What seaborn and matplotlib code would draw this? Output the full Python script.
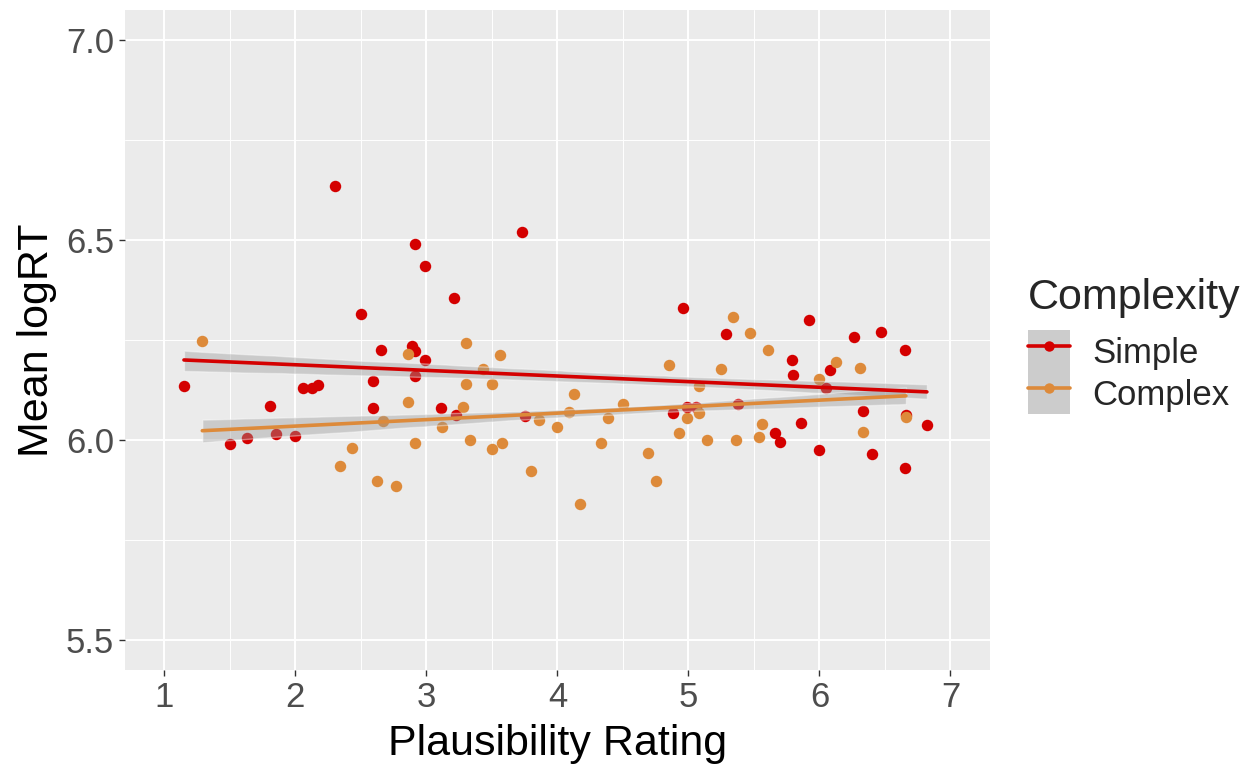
import numpy as np
import pandas as pd
import matplotlib
matplotlib.use("Agg")
import matplotlib.pyplot as plt
import seaborn as sns
from matplotlib.patches import Rectangle
from matplotlib.lines import Line2D

# 값은 그림에서 눈으로 읽음
simple_x = [1.15, 1.50, 1.63, 1.81, 1.85, 2.00, 2.06, 2.13, 2.17, 2.30, 2.50, 2.59,
            2.59, 2.65, 2.89, 2.91, 2.91, 2.91, 2.99, 2.99, 3.11, 3.21, 3.23, 3.73,
            3.75, 4.88, 4.96, 4.99, 5.06, 5.29, 5.38, 5.66, 5.70, 5.79, 5.80, 5.86,
            5.92, 6.00, 6.05, 6.08, 6.26, 6.33, 6.40, 6.47, 6.65, 6.65, 6.66, 6.82]
simple_y = [6.135, 5.990, 6.005, 6.085, 6.015, 6.010, 6.130, 6.130, 6.137, 6.635, 6.314, 6.147,
            6.080, 6.224, 6.234, 6.222, 6.490, 6.160, 6.436, 6.200, 6.080, 6.356, 6.062, 6.520,
            6.060, 6.067, 6.329, 6.082, 6.082, 6.264, 6.090, 6.017, 5.995, 6.200, 6.162, 6.042,
            6.300, 5.975, 6.130, 6.175, 6.257, 6.072, 5.965, 6.270, 6.224, 5.930, 6.062, 6.037]

complex_x = [1.29, 2.34, 2.43, 2.62, 2.67, 2.77, 2.86, 2.86, 2.91, 3.12, 3.28, 3.30,
             3.30, 3.33, 3.43, 3.50, 3.50, 3.56, 3.58, 3.80, 3.86, 4.00, 4.09, 4.13,
             4.17, 4.33, 4.39, 4.50, 4.69, 4.75, 4.85, 4.93, 4.99, 5.08, 5.08, 5.14,
             5.25, 5.34, 5.36, 5.47, 5.54, 5.56, 5.61, 6.00, 6.13, 6.31, 6.33, 6.66]
complex_y = [6.247, 5.935, 5.980, 5.898, 6.047, 5.885, 6.214, 6.095, 5.993, 6.032, 6.082, 6.242,
             6.140, 6.000, 6.177, 6.140, 5.978, 6.212, 5.993, 5.923, 6.050, 6.032, 6.070, 6.115,
             5.840, 5.993, 6.055, 6.090, 5.968, 5.898, 6.187, 6.017, 6.055, 6.135, 6.067, 6.000,
             6.177, 6.307, 6.000, 6.267, 6.007, 6.040, 6.224, 6.152, 6.195, 6.180, 6.020, 6.057]

groups = ["Simple", "Complex"]
colors = {"Simple": "#D40000", "Complex": "#DD8A3A"}

df = pd.concat([
    pd.DataFrame({"rating": simple_x, "logRT": simple_y, "Complexity": "Simple"}),
    pd.DataFrame({"rating": complex_x, "logRT": complex_y, "Complexity": "Complex"}),
])

sns.set_style("darkgrid", {"axes.facecolor": "#EBEBEB", "grid.color": "white"})
plt.rcParams["font.family"] = ["Liberation Sans", "DejaVu Sans"]

fig = plt.figure(figsize=(12.45, 7.65), dpi=100)
ax = fig.add_axes([0.1004, 0.124, 0.6946, 0.863])

# 점 먼저, 회귀선은 위에
for g in groups:
    sub = df[df.Complexity == g]
    sns.scatterplot(data=sub, x="rating", y="logRT", color=colors[g], s=68,
                    linewidth=0, ax=ax, zorder=2)
for g in groups:
    sub = df[df.Complexity == g]
    n_before = len(ax.collections)
    # 원본 밴드가 좁아서 ci를 낮춤
    sns.regplot(data=sub, x="rating", y="logRT", scatter=False, color=colors[g],
                ci=45, line_kws={"lw": 2.6, "zorder": 4}, seed=0, ax=ax)
    band = ax.collections[n_before]
    band.set_facecolor("#999999")
    band.set_alpha(0.4)
    band.set_zorder(3)

ax.set_xlim(0.7, 7.3)
ax.set_ylim(5.425, 7.075)
ax.set_xticks([1, 2, 3, 4, 5, 6, 7])
ax.set_yticks([5.5, 6.0, 6.5, 7.0])
ax.set_yticklabels(["5.5", "6.0", "6.5", "7.0"])
ax.set_xticks(np.arange(1.5, 7, 1), minor=True)
ax.set_yticks([5.75, 6.25, 6.75], minor=True)
ax.grid(which="major", color="white", lw=1.4)
ax.grid(which="minor", color="white", lw=0.7)
ax.set_axisbelow(True)
for s in ax.spines.values():
    s.set_visible(False)
ax.tick_params(which="major", length=4, width=1, color="#333333", labelcolor="#4D4D4D",
               labelsize=25, pad=4, bottom=True, left=True)
ax.tick_params(which="minor", length=0)
ax.set_xlabel("Plausibility Rating", fontsize=31, color="black", labelpad=7)
ax.set_ylabel("Mean logRT", fontsize=31, color="black", labelpad=6)

handles = [(Rectangle((0, 0), 1, 1, facecolor="#CCCCCC", lw=0),
            Line2D([], [], color=colors[g], lw=2.6, marker="o", markersize=7.5, markeredgewidth=0))
           for g in groups]
leg = fig.legend(handles, groups, title="Complexity", loc="upper left",
                 bbox_to_anchor=(0.826, 0.637), frameon=False, fontsize=25,
                 title_fontsize=31, handlelength=1.21, handleheight=1.485,
                 labelspacing=0, handletextpad=0.62, borderaxespad=0, borderpad=0)
leg._legend_box.align = "left"
leg._legend_box.sep = 9

fig.savefig("out.png", dpi=100)
